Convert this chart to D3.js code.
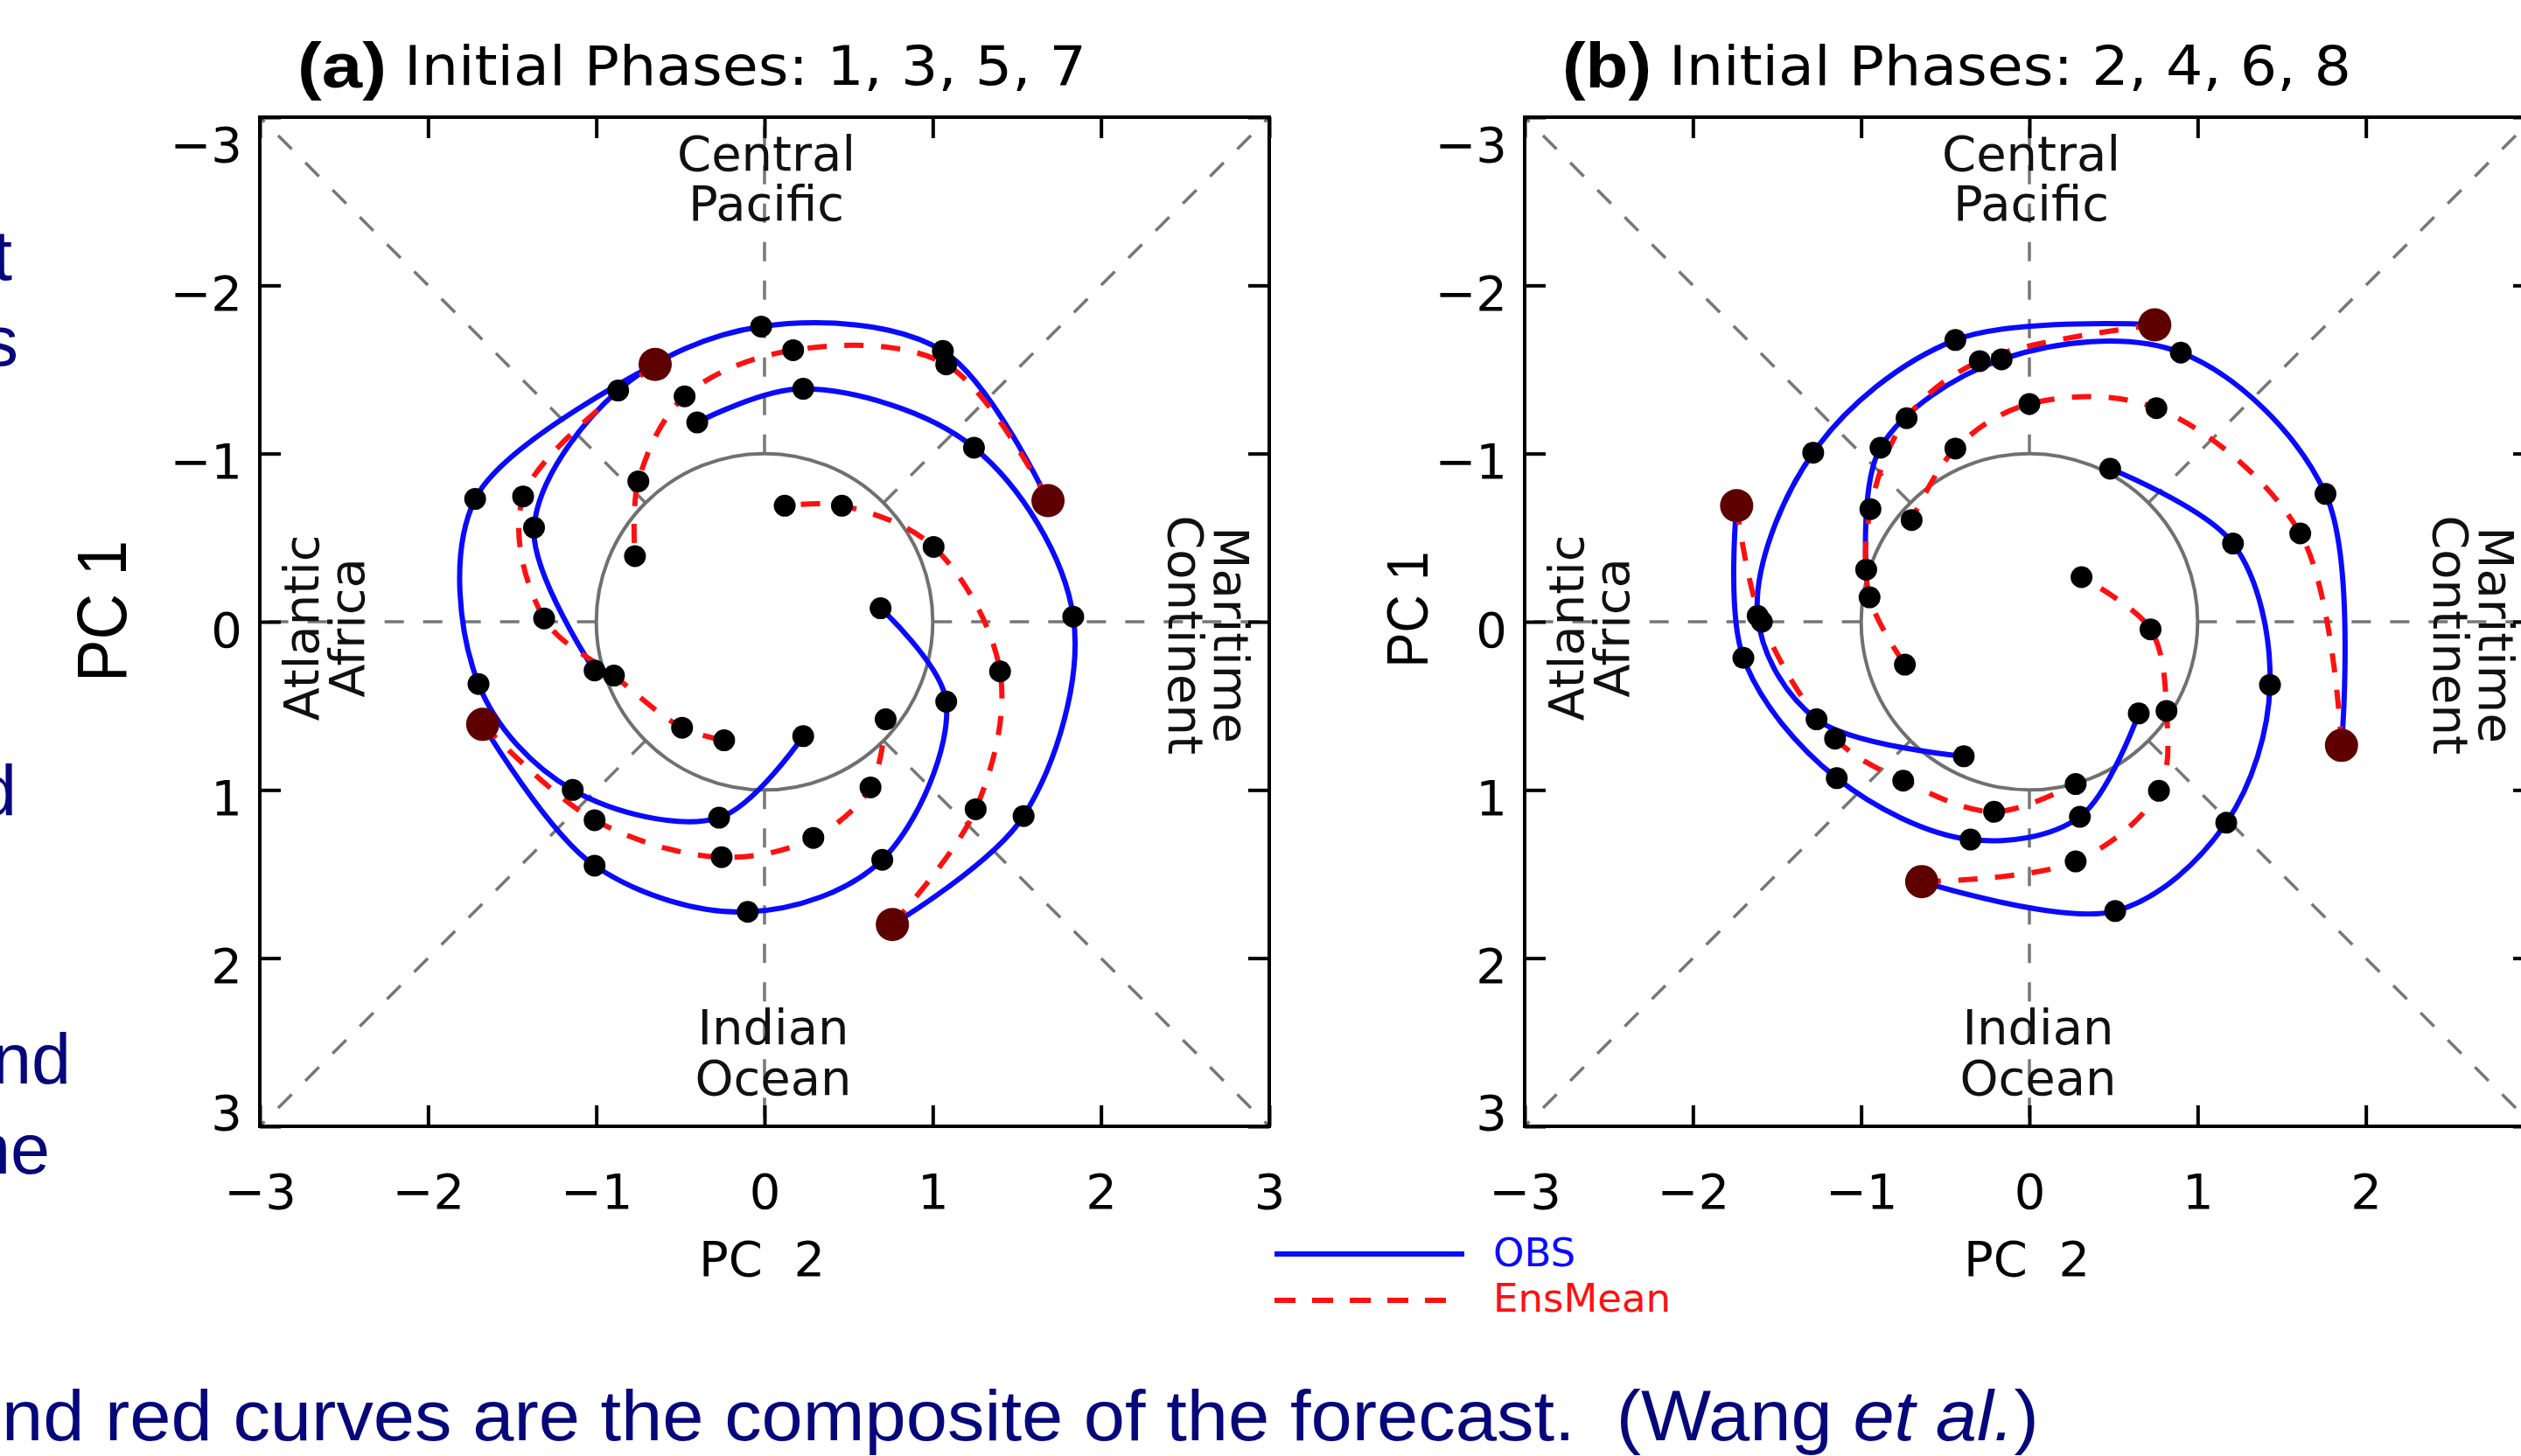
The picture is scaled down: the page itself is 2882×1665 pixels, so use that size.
<!DOCTYPE html>
<html>
<head>
<meta charset="utf-8">
<script src="https://cdn.jsdelivr.net/npm/d3@7"></script>
<style>
  body { margin: 0; background: #fff; }
  svg { display: block; }
</style>
</head>
<body>
<svg id="svg" width="2882" height="1665"></svg>
<script>
(function() {
  'use strict';

  var ticks = [-3, -2, -1, 0, 1, 2, 3];
  var panelLabels = ["(a)", "(b)"];
  var panelTitles = ["Initial Phases: 1, 3, 5, 7", "Initial Phases: 2, 4, 6, 8"];
  var regionNames = ["Central", "Pacific", "Indian", "Ocean", "Atlantic", "Africa", "Maritime", "Continent"];
  var legendNames = ["OBS", "EnsMean"];

  // [PC2, PC1] of the initial day of each composite
  var startsA = [[-0.65, -1.53], [1.685, -0.72], [-1.675, 0.61], [0.76, 1.80]];
  // points every 5 days after the start
  var obsA = [
    [[-1.72, -0.73], [-1.70, 0.37], [-1.14, 1.00], [-0.27, 1.165], [0.23, 0.68]],
    [[1.06, -1.61], [-0.02, -1.755], [-0.87, -1.375], [-1.37, -0.56], [-1.01, 0.29]],
    [[-1.01, 1.45], [-0.10, 1.725], [0.70, 1.415], [1.08, 0.475], [0.69, -0.08]],
    [[1.54, 1.155], [1.835, -0.03], [1.245, -1.035], [0.23, -1.385], [-0.40, -1.185]]
  ];
  var ensA = [
    [[-1.435, -0.745], [-1.31, -0.02], [-0.895, 0.32], [-0.49, 0.63], [-0.24, 0.705]],
    [[1.08, -1.53], [0.17, -1.615], [-0.475, -1.34], [-0.75, -0.835], [-0.77, -0.39]],
    [[-1.01, 1.18], [-0.255, 1.40], [0.29, 1.285], [0.63, 0.985], [0.72, 0.58]],
    [[1.255, 1.115], [1.40, 0.295], [1.005, -0.445], [0.46, -0.69], [0.12, -0.69]]
  ];

  var startsB = [[0.745, -1.765], [-1.74, -0.69], [-0.64, 1.545], [1.855, 0.735]];
  var obsB = [
    [[-0.44, -1.675], [-1.285, -1.005], [-1.615, -0.035], [-1.265, 0.58], [-0.39, 0.80]],
    [[-1.70, 0.215], [-1.145, 0.93], [-0.35, 1.295], [0.30, 1.16], [0.65, 0.545]],
    [[0.51, 1.72], [1.17, 1.195], [1.43, 0.375], [1.21, -0.465], [0.48, -0.91]],
    [[1.76, -0.76], [0.90, -1.60], [-0.165, -1.56], [-0.885, -1.035], [-0.97, -0.31]]
  ];
  var ensB = [
    [[-0.295, -1.55], [-0.73, -1.21], [-0.945, -0.67], [-0.95, -0.145], [-0.74, 0.255]],
    [[-1.59, 0.0], [-1.155, 0.695], [-0.75, 0.945], [-0.21, 1.13], [0.275, 0.965]],
    [[0.275, 1.425], [0.77, 1.005], [0.815, 0.53], [0.72, 0.045], [0.31, -0.265]],
    [[1.61, -0.525], [0.755, -1.27], [0.0, -1.295], [-0.44, -1.03], [-0.70, -0.605]]
  ];

  var sideWords = ["t", "s", "d", "nd", "ne"];
  var captionParts = ["nd red curves are the composite of the forecast.  (Wang ", "et al.", ")"];

  var svg = d3.select("#svg");
  var plotFont = "'DejaVu Sans', Verdana, sans-serif";
  var slideFont = "'Liberation Sans', Arial, sans-serif";
  var blue = "#0a0aff", red = "#ff1010", navy = "#07077c";

  function panel(left, idx, starts, obs, ens, pc1) {
    var x = d3.scaleLinear().domain([-3, 3]).range([left, left + 1154]);
    var y = d3.scaleLinear().domain([-3, 3]).range([134, 1288]);
    var cx = x(0), cy = y(0);
    var g = svg.append("g");

    // dashed phase dividers, drawn outside the unit circle
    var dirs = [[1, 0], [-1, 0], [0, 1], [0, -1], [1, 1], [1, -1], [-1, 1], [-1, -1]];
    dirs.forEach(function(d) {
      var n = Math.sqrt(d[0] * d[0] + d[1] * d[1]);
      g.append("line")
        .attr("x1", x(d[0] / n)).attr("y1", y(d[1] / n))
        .attr("x2", x(3 * d[0])).attr("y2", y(3 * d[1]))
        .attr("stroke", "#777")
        .attr("stroke-width", 3.5)
        .attr("stroke-dasharray", "22,22");
    });

    g.append("circle")
      .attr("cx", cx).attr("cy", cy)
      .attr("r", x(1) - x(0))
      .attr("fill", "none")
      .attr("stroke", "#707070")
      .attr("stroke-width", 4);

    // region names
    var lab = g.append("g")
      .attr("font-family", plotFont)
      .attr("font-size", 56)
      .attr("fill", "#111")
      .attr("text-anchor", "middle");
    lab.append("text").attr("x", cx + 2).attr("y", cy - 516).text(regionNames[0]);
    lab.append("text").attr("x", cx + 2).attr("y", cy - 459).text(regionNames[1]);
    lab.append("text").attr("x", cx + 10).attr("y", cy + 483).text(regionNames[2]);
    lab.append("text").attr("x", cx + 10).attr("y", cy + 541).text(regionNames[3]);
    lab.append("text").attr("transform", "translate(" + (cx - 510) + "," + (cy + 7) + ") rotate(-90)").text(regionNames[4]);
    lab.append("text").attr("transform", "translate(" + (cx - 458) + "," + (cy + 7) + ") rotate(-90)").text(regionNames[5]);
    lab.append("text").attr("transform", "translate(" + (cx + 514) + "," + (cy + 15) + ") rotate(90)").text(regionNames[6]);
    lab.append("text").attr("transform", "translate(" + (cx + 462) + "," + (cy + 15) + ") rotate(90)").text(regionNames[7]);

    // axes with inward ticks
    function styleAxis(a) {
      a.attr("font-family", plotFont).attr("font-size", 56);
      a.select(".domain").remove();
      a.selectAll(".tick line").attr("stroke", "#000").attr("stroke-width", 4);
      a.selectAll("text").attr("fill", "#000");
    }
    var fmt = d3.format("d");
    g.append("g")
      .attr("transform", "translate(0,1288)")
      .call(d3.axisBottom(x).tickValues(ticks).tickFormat(fmt).tickSizeInner(-24).tickSizeOuter(0).tickPadding(54))
      .call(styleAxis);
    g.append("g")
      .attr("transform", "translate(" + left + ",0)")
      .call(d3.axisLeft(y).tickValues(ticks).tickFormat(fmt).tickSizeInner(-24).tickSizeOuter(0).tickPadding(20))
      .call(styleAxis)
      .selectAll("text")
      .attr("dy", function(d) { return d === -3 ? 50 : (d === 3 ? 3 : 28); });
    g.append("g")
      .attr("transform", "translate(0,134)")
      .call(d3.axisTop(x).tickValues(ticks).tickSizeInner(-24).tickSizeOuter(0).tickFormat(""))
      .call(styleAxis);
    g.append("g")
      .attr("transform", "translate(" + (left + 1154) + ",0)")
      .call(d3.axisRight(y).tickValues(ticks).tickSizeInner(-24).tickSizeOuter(0).tickFormat(""))
      .call(styleAxis);

    g.append("rect")
      .attr("x", left).attr("y", 134)
      .attr("width", 1154).attr("height", 1154)
      .attr("fill", "none")
      .attr("stroke", "#000")
      .attr("stroke-width", 4);

    // trajectories
    var line = d3.line()
      .curve(d3.curveCatmullRom.alpha(0.5))
      .x(function(d) { return x(d[0]); })
      .y(function(d) { return y(d[1]); });

    obs.forEach(function(s, i) {
      g.append("path")
        .attr("d", line([starts[i]].concat(s)))
        .attr("fill", "none")
        .attr("stroke", blue)
        .attr("stroke-width", 6)
        .attr("stroke-linejoin", "round");
    });
    ens.forEach(function(s, i) {
      g.append("path")
        .attr("d", line([starts[i]].concat(s)))
        .attr("fill", "none")
        .attr("stroke", red)
        .attr("stroke-width", 6)
        .attr("stroke-dasharray", "22,20");
    });

    var dots = d3.merge(obs.concat(ens));
    g.selectAll(".dot")
      .data(dots)
      .enter().append("circle")
      .attr("cx", function(d) { return x(d[0]); })
      .attr("cy", function(d) { return y(d[1]); })
      .attr("r", 12.5)
      .attr("fill", "#000");

    g.selectAll(".start")
      .data(starts)
      .enter().append("circle")
      .attr("cx", function(d) { return x(d[0]); })
      .attr("cy", function(d) { return y(d[1]); })
      .attr("r", 19)
      .attr("fill", "#5e0000");

    // titles
    svg.append("text")
      .attr("x", left + 43).attr("y", 100)
      .attr("font-family", slideFont)
      .attr("font-weight", "bold")
      .attr("font-size", 72)
      .attr("textLength", 102)
      .attr("lengthAdjust", "spacingAndGlyphs")
      .text(panelLabels[idx]);
    svg.append("text")
      .attr("x", left + 165).attr("y", 97)
      .attr("font-family", plotFont)
      .attr("font-size", 62)
      .attr("textLength", 780)
      .attr("lengthAdjust", "spacingAndGlyphs")
      .text(panelTitles[idx]);

    svg.append("text")
      .attr("x", cx - 3).attr("y", 1459)
      .attr("font-family", plotFont)
      .attr("font-size", 56)
      .attr("text-anchor", "middle")
      .style("white-space", "pre")
      .text("PC  2");

    svg.append("text")
      .attr("transform", "translate(" + pc1.x + "," + pc1.y + ") rotate(-90)")
      .attr("font-family", slideFont)
      .attr("font-size", pc1.size)
      .attr("text-anchor", "middle")
      .attr("textLength", pc1.len)
      .attr("lengthAdjust", "spacingAndGlyphs")
      .text("PC 1");
  }

  panel(297, 0, startsA, obsA, ensA, {x: 144, y: 699, size: 80, len: 162});
  panel(1743, 1, startsB, obsB, ensB, {x: 1632, y: 697, size: 66, len: 133});

  // legend
  var leg = svg.append("g").attr("font-family", plotFont).attr("font-size", 45);
  leg.append("line")
    .attr("x1", 1457).attr("x2", 1674).attr("y1", 1434).attr("y2", 1434)
    .attr("stroke", blue).attr("stroke-width", 6);
  leg.append("line")
    .attr("x1", 1457).attr("x2", 1660).attr("y1", 1487).attr("y2", 1487)
    .attr("stroke", red).attr("stroke-width", 6)
    .attr("stroke-dasharray", "24,19");
  leg.append("text").attr("x", 1707).attr("y", 1448).attr("fill", blue).text(legendNames[0]);
  leg.append("text").attr("x", 1707).attr("y", 1500).attr("fill", red).text(legendNames[1]);

  // slide text around the figure
  var side = svg.append("g")
    .attr("font-family", slideFont)
    .attr("font-size", 81)
    .attr("fill", navy)
    .attr("text-anchor", "end");
  side.append("text").attr("x", 14).attr("y", 320).text(sideWords[0]);
  side.append("text").attr("x", 21).attr("y", 418).text(sideWords[1]);
  side.append("text").attr("x", 19).attr("y", 932).text(sideWords[2]);
  side.append("text").attr("x", 81).attr("y", 1239).text(sideWords[3]);
  side.append("text").attr("x", 57).attr("y", 1342).text(sideWords[4]);

  var cap = svg.append("text")
    .attr("x", 0).attr("y", 1647)
    .attr("font-family", slideFont)
    .attr("font-size", 81)
    .attr("fill", navy)
    .style("white-space", "pre");
  cap.append("tspan").text(captionParts[0]);
  cap.append("tspan").attr("font-style", "italic").text(captionParts[1]);
  cap.append("tspan").text(captionParts[2]);
  var w = cap.node().getBBox().width;
  cap.attr("transform", "translate(2,0) scale(" + (2329 / w) + ",1)");
}());
</script>
</body>
</html>
